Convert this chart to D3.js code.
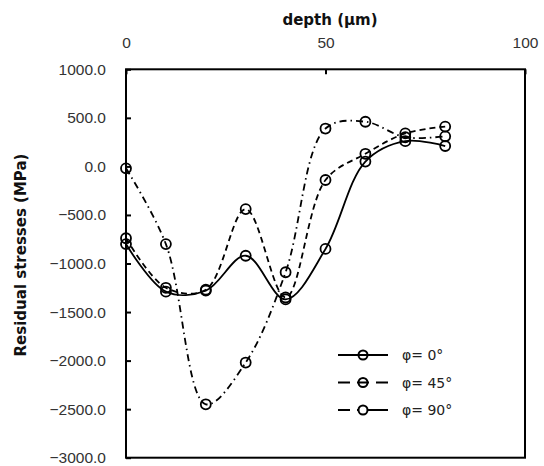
<!DOCTYPE html>
<html>
<head>
<meta charset="utf-8">
<script src="https://cdn.jsdelivr.net/npm/d3@7"></script>
<style>
  html, body { margin: 0; padding: 0; background: #fff; }
  svg { display: block; }
  .tick-label { font-family: "Liberation Sans", Arial, sans-serif; font-size: 15.5px; fill: #333; }
  .axis-title { font-family: "DejaVu Sans", Verdana, sans-serif; font-size: 15px; font-weight: bold; fill: #111; }
  .legend-label { font-family: "DejaVu Sans", Verdana, sans-serif; font-size: 14px; fill: #222; }
</style>
</head>
<body>
<div id="chart"></div>
<script>
const depths = [0, 10, 20, 30, 40, 50, 60, 70, 80];
const phi0 = [-800, -1290, -1280, -920, -1370, -850, 50, 260, 210];
const phi45 = [-740, -1250, -1270, -440, -1350, -140, 130, 340, 410];
const phi90 = [-20, -800, -2450, -2020, -1090, 390, 460, 300, 310];
const xTicks = [0, 50, 100];
const yTicks = [1000, 500, 0, -500, -1000, -1500, -2000, -2500, -3000];

const series = [
  { name: 'φ= 0°', values: phi0, dash: null, legendDash: null, legendFill: 'none' },
  { name: 'φ= 45°', values: phi45, dash: '6,4', legendDash: '12,7,12,7,12', legendFill: 'none' },
  { name: 'φ= 90°', values: phi90, dash: '7,4,1.5,4', legendDash: '12,7,31', legendFill: '#fff' }
];

const width = 544;
const height = 466;
const plot = { left: 126, right: 525, top: 69.3, bottom: 457.7 };

const svg = d3.select('#chart').append('svg')
  .attr('width', width)
  .attr('height', height);

const x = d3.scaleLinear().domain([0, 100]).range([plot.left, plot.right]);
const y = d3.scaleLinear().domain([-3000, 1000]).range([plot.bottom, plot.top]);

// top axis, labels above, ticks pointing inward
const xAxis = d3.axisTop(x).tickValues(xTicks).tickSize(-5).tickPadding(21).tickFormat(d3.format('d'));
const gx = svg.append('g').attr('transform', `translate(0,${plot.top})`).call(xAxis);
gx.attr('font-family', null).attr('font-size', null);
gx.select('.domain').remove();
gx.selectAll('line').attr('stroke', '#000').attr('stroke-width', 2);
gx.selectAll('text').attr('class', 'tick-label');

const yAxis = d3.axisLeft(y).tickValues(yTicks).tickSize(-5).tickPadding(20).tickFormat(d3.format('.1f'));
const gy = svg.append('g').attr('transform', `translate(${plot.left},0)`).call(yAxis);
gy.attr('font-family', null).attr('font-size', null);
gy.select('.domain').remove();
gy.selectAll('line').attr('stroke', '#000').attr('stroke-width', 2);
gy.selectAll('text').attr('class', 'tick-label');

// frame
svg.append('rect')
  .attr('x', plot.left)
  .attr('y', plot.top)
  .attr('width', plot.right - plot.left)
  .attr('height', plot.bottom - plot.top)
  .attr('fill', 'none')
  .attr('stroke', '#000')
  .attr('stroke-width', 2);

svg.append('text')
  .attr('class', 'axis-title')
  .attr('x', 330)
  .attr('y', 25)
  .attr('text-anchor', 'middle')
  .text('depth (μm)');

svg.append('text')
  .attr('class', 'axis-title')
  .attr('transform', 'translate(26,255) rotate(-90)')
  .attr('text-anchor', 'middle')
  .text('Residual stresses (MPa)');

const line = d3.line()
  .x((d, i) => x(depths[i]))
  .y(d => y(d))
  .curve(d3.curveCatmullRom.alpha(0.5));

series.forEach(s => {
  svg.append('path')
    .datum(s.values)
    .attr('d', line)
    .attr('fill', 'none')
    .attr('stroke', '#000')
    .attr('stroke-width', 1.8)
    .attr('stroke-dasharray', s.dash);

  svg.append('g').selectAll('circle')
    .data(s.values)
    .join('circle')
    .attr('cx', (d, i) => x(depths[i]))
    .attr('cy', d => y(d))
    .attr('r', 5)
    .attr('fill', 'none')
    .attr('stroke', '#000')
    .attr('stroke-width', 1.8);
});

// legend
const legend = svg.append('g').attr('transform', 'translate(338,355)');
series.forEach((s, i) => {
  const row = legend.append('g').attr('transform', `translate(0,${i * 27.5})`);
  row.append('line')
    .attr('x1', 0).attr('x2', 50)
    .attr('stroke', '#000')
    .attr('stroke-width', 2)
    .attr('stroke-dasharray', s.legendDash);
  row.append('circle')
    .attr('cx', 25)
    .attr('r', 4.5)
    .attr('fill', s.legendFill)
    .attr('stroke', '#000')
    .attr('stroke-width', 2);
  row.append('text')
    .attr('class', 'legend-label')
    .attr('x', 64)
    .attr('y', 5)
    .text(s.name);
});
</script>
</body>
</html>
